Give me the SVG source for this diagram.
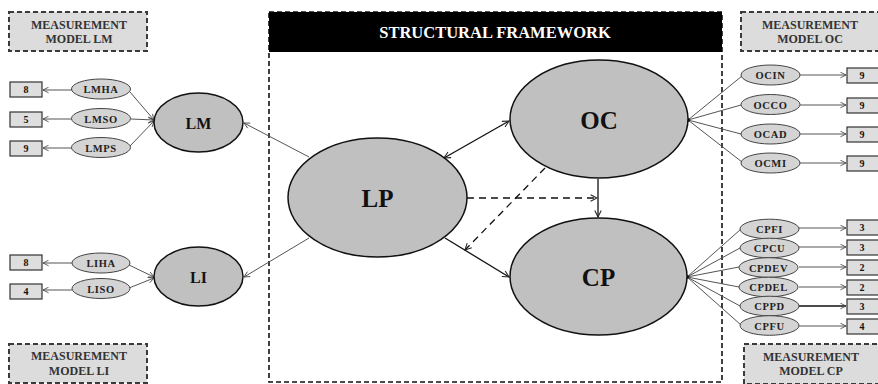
<svg xmlns="http://www.w3.org/2000/svg" width="878" height="384" viewBox="0 0 878 384">
<defs>
<style>
text{font-family:"Liberation Serif","Times New Roman",serif;font-weight:bold;text-anchor:middle;dominant-baseline:central}
.mbox{fill:#dcdcdc;stroke:#3a3a3a;stroke-width:2;stroke-dasharray:5,3}
.mtxt{font-size:12px;fill:#333}
.big{fill:#c0c0c0;stroke:#111;stroke-width:1.5}
.bigt{font-size:25px;fill:#111}
.midt{font-size:16px;fill:#111}
.sm{fill:#d4d4d4;stroke:#444;stroke-width:1}
.smt{font-size:10.5px;fill:#222;letter-spacing:0.6px}
.nb{fill:#dedede;stroke:#333;stroke-width:1.2}
.nbt{font-size:10px;fill:#111}
.ml{stroke:#555;stroke-width:1;fill:none}
.sl{stroke:#111;stroke-width:1.3;fill:none}
.dl{stroke:#111;stroke-width:1.3;fill:none;stroke-dasharray:7,5}
</style>
<marker id="a" viewBox="0 0 10 10" refX="9" refY="5" markerWidth="8" markerHeight="8" orient="auto-start-reverse" markerUnits="userSpaceOnUse">
<path d="M1,1 L9,5 L1,9" fill="none" stroke="#222" stroke-width="1.3"/>
</marker>
<marker id="am" viewBox="0 0 10 10" refX="9" refY="5" markerWidth="7" markerHeight="7" orient="auto" markerUnits="userSpaceOnUse">
<path d="M1,1 L9,5 L1,9" fill="none" stroke="#444" stroke-width="1.2"/>
</marker>
</defs>

<!-- measurement model labels -->
<g id="mm-lm"><rect class="mbox" x="9" y="12" width="138" height="39"/><text class="mtxt" x="79" y="24.5">MEASUREMENT</text><text class="mtxt" x="79" y="38.5">MODEL LM</text></g>
<g id="mm-li"><rect class="mbox" x="9" y="344" width="138" height="39"/><text class="mtxt" x="79" y="356">MEASUREMENT</text><text class="mtxt" x="79" y="370.5">MODEL LI</text></g>
<g id="mm-oc"><rect class="mbox" x="741" y="12" width="142" height="39"/><text class="mtxt" x="810" y="24.5">MEASUREMENT</text><text class="mtxt" x="810" y="38.5">MODEL OC</text></g>
<g id="mm-cp"><rect class="mbox" x="744" y="344" width="140" height="40"/><text class="mtxt" x="811" y="357">MEASUREMENT</text><text class="mtxt" x="811" y="371">MODEL CP</text></g>

<!-- structural framework -->
<g id="framework">
<rect x="269" y="12" width="453" height="370" fill="none" stroke="#111" stroke-width="1.6" stroke-dasharray="5,3"/>
<rect x="269" y="12" width="453" height="40" fill="#000"/>
<text x="495" y="32" font-size="16.5" fill="#fff">STRUCTURAL FRAMEWORK</text>
</g>

<!-- connectors -->
<g id="connectors">
<!-- LM indicators -->
<line class="ml" x1="72" y1="90" x2="43" y2="90" marker-end="url(#am)"/>
<line class="ml" x1="72" y1="119" x2="43" y2="119" marker-end="url(#am)"/>
<line class="ml" x1="72" y1="148" x2="43" y2="148" marker-end="url(#am)"/>
<line class="ml" x1="130" y1="92" x2="154" y2="120" marker-end="url(#am)"/>
<line class="ml" x1="131" y1="119" x2="154" y2="120" marker-end="url(#am)"/>
<line class="ml" x1="130" y1="146" x2="154" y2="121" marker-end="url(#am)"/>
<!-- LI indicators -->
<line class="ml" x1="72" y1="263" x2="43" y2="263" marker-end="url(#am)"/>
<line class="ml" x1="72" y1="290" x2="43" y2="290" marker-end="url(#am)"/>
<line class="ml" x1="129" y1="265" x2="154" y2="277" marker-end="url(#am)"/>
<line class="ml" x1="129" y1="288" x2="154" y2="278" marker-end="url(#am)"/>
<!-- LP to LM / LI -->
<line class="ml" x1="309" y1="157" x2="244" y2="123" marker-end="url(#am)"/>
<line class="ml" x1="309" y1="238" x2="244" y2="277" marker-end="url(#am)"/>
<!-- structural -->
<line class="sl" x1="444" y1="158" x2="509" y2="121" marker-start="url(#a)" marker-end="url(#a)"/>
<line class="sl" x1="445" y1="238" x2="509" y2="277" marker-end="url(#a)"/>
<line class="sl" x1="598" y1="179" x2="598" y2="217" marker-end="url(#a)"/>
<line class="dl" x1="467" y1="198" x2="597" y2="198" marker-end="url(#a)"/>
<line class="dl" x1="545" y1="168" x2="465" y2="250" marker-end="url(#a)"/>
<!-- OC indicators -->
<line class="ml" x1="688" y1="120" x2="742" y2="76"/>
<line class="ml" x1="688" y1="120" x2="741" y2="105"/>
<line class="ml" x1="688" y1="120" x2="741" y2="134"/>
<line class="ml" x1="688" y1="120" x2="742" y2="162"/>
<circle cx="688" cy="120" r="2" fill="#111"/>
<line class="ml" x1="800" y1="75" x2="846" y2="75" marker-end="url(#am)"/>
<line class="ml" x1="800" y1="105" x2="846" y2="105" marker-end="url(#am)"/>
<line class="ml" x1="800" y1="134" x2="846" y2="134" marker-end="url(#am)"/>
<line class="ml" x1="800" y1="163" x2="846" y2="163" marker-end="url(#am)"/>
<!-- CP indicators -->
<line class="ml" x1="687" y1="277" x2="741" y2="229"/>
<line class="ml" x1="687" y1="277" x2="740" y2="248"/>
<line class="ml" x1="687" y1="277" x2="739" y2="267"/>
<line class="ml" x1="687" y1="277" x2="739" y2="287"/>
<line class="ml" x1="687" y1="277" x2="740" y2="306"/>
<line class="ml" x1="687" y1="277" x2="741" y2="325"/>
<circle cx="687" cy="277" r="2" fill="#111"/>
<line class="ml" x1="799" y1="228" x2="846" y2="228" marker-end="url(#am)"/>
<line class="ml" x1="799" y1="247" x2="846" y2="247" marker-end="url(#am)"/>
<line class="ml" x1="799" y1="267" x2="846" y2="267" marker-end="url(#am)"/>
<line class="ml" x1="799" y1="287" x2="846" y2="287" marker-end="url(#am)"/>
<line class="sl" x1="799" y1="306" x2="846" y2="306" stroke-width="1" marker-end="url(#am)"/>
<line class="ml" x1="799" y1="326" x2="846" y2="326" marker-end="url(#am)"/>
</g>

<!-- indicator number boxes -->
<g id="n-lmha"><rect class="nb" x="10" y="82" width="32" height="15"/><text class="nbt" x="26" y="89.5">8</text></g>
<g id="n-lmso"><rect class="nb" x="10" y="112" width="32" height="15"/><text class="nbt" x="26" y="119.5">5</text></g>
<g id="n-lmps"><rect class="nb" x="10" y="141" width="32" height="15"/><text class="nbt" x="26" y="148.5">9</text></g>
<g id="n-liha"><rect class="nb" x="10" y="255" width="32" height="15"/><text class="nbt" x="26" y="262.5">8</text></g>
<g id="n-liso"><rect class="nb" x="10" y="284" width="32" height="15"/><text class="nbt" x="26" y="291.5">4</text></g>
<g id="n-ocin"><rect class="nb" x="847" y="68" width="34" height="15"/><text class="nbt" x="862" y="75.5">9</text></g>
<g id="n-occo"><rect class="nb" x="847" y="98" width="34" height="15"/><text class="nbt" x="862" y="105.5">9</text></g>
<g id="n-ocad"><rect class="nb" x="847" y="127" width="34" height="15"/><text class="nbt" x="862" y="134.5">9</text></g>
<g id="n-ocmi"><rect class="nb" x="847" y="156" width="34" height="15"/><text class="nbt" x="862" y="163.5">9</text></g>
<g id="n-cpfi"><rect class="nb" x="847" y="220" width="34" height="15"/><text class="nbt" x="862" y="227.5">3</text></g>
<g id="n-cpcu"><rect class="nb" x="847" y="240" width="34" height="15"/><text class="nbt" x="862" y="247.5">3</text></g>
<g id="n-cpdev"><rect class="nb" x="847" y="260" width="34" height="15"/><text class="nbt" x="862" y="267.5">2</text></g>
<g id="n-cpdel"><rect class="nb" x="847" y="280" width="34" height="15"/><text class="nbt" x="862" y="287.5">2</text></g>
<g id="n-cppd"><rect class="nb" x="847" y="299" width="34" height="15"/><text class="nbt" x="862" y="306.5">3</text></g>
<g id="n-cpfu"><rect class="nb" x="847" y="319" width="34" height="15"/><text class="nbt" x="862" y="326.5">4</text></g>

<!-- indicator ellipses -->
<g id="lmha"><ellipse class="sm" cx="101" cy="89" rx="29.5" ry="10"/><text class="smt" x="101" y="89.5">LMHA</text></g>
<g id="lmso"><ellipse class="sm" cx="101" cy="118.5" rx="29.5" ry="10"/><text class="smt" x="101" y="119">LMSO</text></g>
<g id="lmps"><ellipse class="sm" cx="101" cy="147.5" rx="29.5" ry="10"/><text class="smt" x="101" y="148">LMPS</text></g>
<g id="liha"><ellipse class="sm" cx="101" cy="263" rx="29" ry="10"/><text class="smt" x="101" y="263.5">LIHA</text></g>
<g id="liso"><ellipse class="sm" cx="101" cy="288.5" rx="29" ry="10"/><text class="smt" x="101" y="289">LISO</text></g>
<g id="ocin"><ellipse class="sm" cx="770.5" cy="75" rx="29.5" ry="10"/><text class="smt" x="770.5" y="75.5">OCIN</text></g>
<g id="occo"><ellipse class="sm" cx="770.5" cy="104.5" rx="29.5" ry="10"/><text class="smt" x="770.5" y="105">OCCO</text></g>
<g id="ocad"><ellipse class="sm" cx="770.5" cy="134" rx="29.5" ry="10"/><text class="smt" x="770.5" y="134.5">OCAD</text></g>
<g id="ocmi"><ellipse class="sm" cx="770.5" cy="163" rx="29.5" ry="10"/><text class="smt" x="770.5" y="163.5">OCMI</text></g>
<g id="cpfi"><ellipse class="sm" cx="769.5" cy="229" rx="29.5" ry="9.8"/><text class="smt" x="769.5" y="229.5">CPFI</text></g>
<g id="cpcu"><ellipse class="sm" cx="769.5" cy="248" rx="29.5" ry="9.8"/><text class="smt" x="769.5" y="248.5">CPCU</text></g>
<g id="cpdev"><ellipse class="sm" cx="768.5" cy="267.5" rx="29.5" ry="9.8"/><text class="smt" x="768.5" y="268">CPDEV</text></g>
<g id="cpdel"><ellipse class="sm" cx="768.5" cy="287" rx="29.5" ry="9.8"/><text class="smt" x="768.5" y="287.5">CPDEL</text></g>
<g id="cppd"><ellipse class="sm" cx="769.5" cy="306" rx="29.5" ry="9.8"/><text class="smt" x="769.5" y="306.5">CPPD</text></g>
<g id="cpfu"><ellipse class="sm" cx="769.5" cy="325.5" rx="29.5" ry="9.8"/><text class="smt" x="769.5" y="326">CPFU</text></g>

<!-- latent constructs -->
<g id="LM"><ellipse class="big" cx="198.5" cy="122.5" rx="44.5" ry="29.5"/><text class="midt" x="198.5" y="123">LM</text></g>
<g id="LI"><ellipse class="big" cx="198.5" cy="276.5" rx="44.5" ry="29.5"/><text class="midt" x="198.5" y="277">LI</text></g>
<g id="OC"><ellipse class="big" cx="599" cy="119" rx="89" ry="59"/><text class="bigt" x="599" y="120">OC</text></g>
<g id="LP"><ellipse class="big" cx="377.5" cy="197.5" rx="89.5" ry="59.5"/><text class="bigt" x="377.5" y="198">LP</text></g>
<g id="CP"><ellipse class="big" cx="598.5" cy="276.5" rx="88.5" ry="58.5"/><text class="bigt" x="598.5" y="277">CP</text></g>
</svg>
